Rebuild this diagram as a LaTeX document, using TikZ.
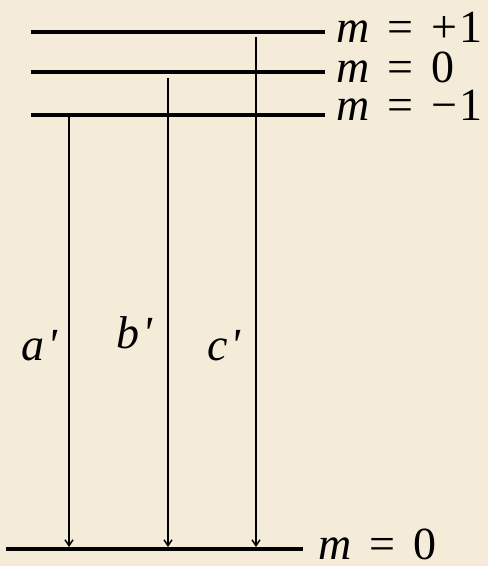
\documentclass[tikz,border=0pt]{standalone}
\usepackage{fontspec}
\setmainfont{Liberation Serif}
\usepackage{xcolor}
\usepackage{tikz}
\usetikzlibrary{arrows.meta, positioning}
\definecolor{parchment}{RGB}{244,235,216}

\begin{document}
\begin{tikzpicture}[x=1pt, y=-1pt,
  level/.style={line width=4.2pt},
  trans/.style={-{Straight Barb[length=6pt, width=8pt]}, line width=1.4pt},
  lbl/.style={anchor=base west, inner sep=0pt, text height=31pt, text depth=1pt,
              font=\fontsize{46}{50}\selectfont},
  tag/.style={anchor=base, inner sep=0pt, font=\fontsize{46}{50}\selectfont\itshape}
]
\fill[parchment] (0,0) rectangle (488,566);
\useasboundingbox (0,0) rectangle (488,566);
% upper levels
\coordinate (p1l) at (31,32);  \coordinate (p1r) at (325,32);
\coordinate (z1l) at (31,72);  \coordinate (z1r) at (325,72);
\coordinate (n1l) at (31,115); \coordinate (n1r) at (325,115);
% lower level
\coordinate (z0l) at (6,549);  \coordinate (z0r) at (303,549);
\draw[level] (p1l) -- (p1r);
\draw[level] (z1l) -- (z1r);
\draw[level] (n1l) -- (n1r);
\draw[level] (z0l) -- (z0r);
\node[lbl] (mp) at (336,42)  {\textit{m}\hspace{18pt}=\hspace{18pt}+\hspace{2pt}1};
\node[lbl] (mz) at (336,82)  {\textit{m}\hspace{18pt}=\hspace{18pt}0};
\node[lbl] (mn) at (336,120) {\textit{m}\hspace{18pt}=\hspace{18pt}−\hspace{2pt}1};
\node[lbl] (mb) at (318,559) {\textit{m}\hspace{18pt}=\hspace{18pt}0};
% transitions
\coordinate (ta) at (69,115);  \coordinate (ha) at (69,547);
\coordinate (tb) at (168,78);  \coordinate (hb) at (168,547);
\coordinate (tc) at (256,37);  \coordinate (hc) at (256,547);
\draw[trans] (ta) -- (ha);
\draw[trans] (tb) -- (hb);
\draw[trans] (tc) -- (hc);
\node[tag] (la) at (39,360) {a\kern3pt\textquotesingle};
\node[tag] (lb) at (134,348) {b\kern3pt\textquotesingle};
\node[tag] (lc) at (224,360) {c\kern3pt\textquotesingle};
\end{tikzpicture}
\end{document}
